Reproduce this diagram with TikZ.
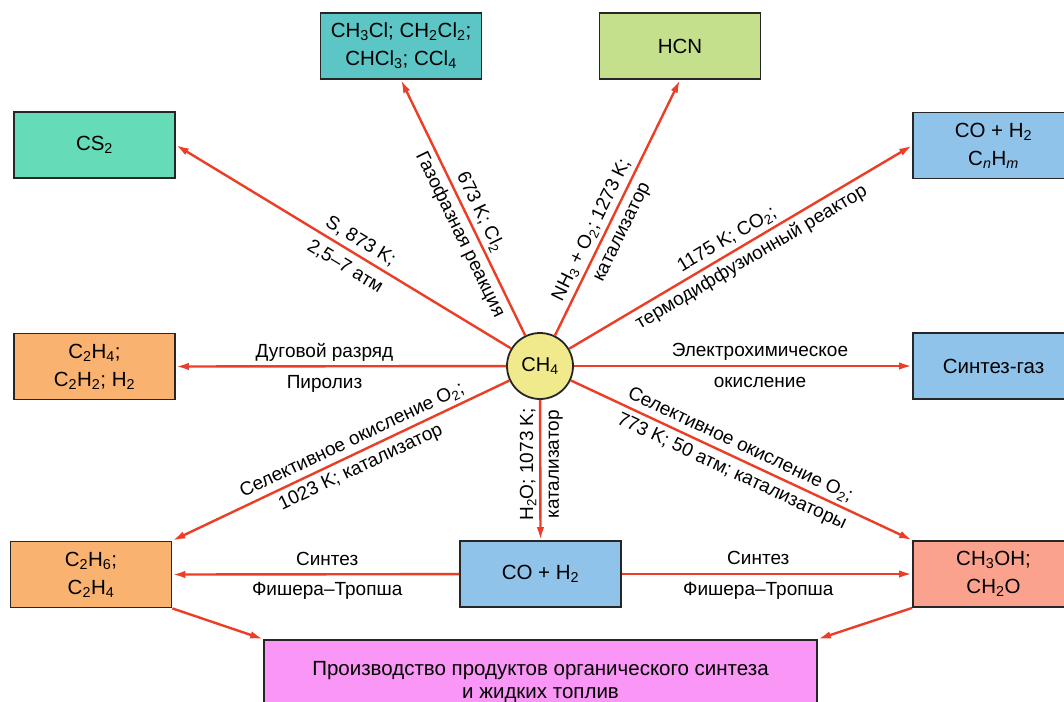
\documentclass[tikz,border=0pt]{standalone}
\usepackage{fontspec}
\setmainfont{Liberation Sans}
\usetikzlibrary{arrows.meta}

\definecolor{arrred}{RGB}{236,62,38}
\definecolor{mintbox}{RGB}{102,219,184}
\definecolor{tealbox}{RGB}{92,197,198}
\definecolor{limebox}{RGB}{196,224,140}
\definecolor{bluebox}{RGB}{143,195,234}
\definecolor{orangebox}{RGB}{250,178,112}
\definecolor{salmonbox}{RGB}{250,162,142}
\definecolor{pinkbox}{RGB}{250,150,245}
\definecolor{ch4fill}{RGB}{241,234,140}
\newcommand{\sbs}[1]{\textsubscript{#1}}

\begin{document}
\begin{tikzpicture}[
  x=1pt, y=-1pt,
  box/.style  = {draw=black!85, line width=1.8pt, align=center,
                 minimum width=161pt, minimum height=66pt, inner sep=2pt,
                 font=\fontsize{20.5}{28}\selectfont},
  hub/.style  = {circle, draw=black!85, line width=1.8pt, fill=ch4fill,
                 minimum size=66pt, inner sep=0pt, font=\fontsize{20}{22}\selectfont},
  lbl/.style  = {font=\fontsize{19}{21}\selectfont, inner sep=2pt,
                 text height=13.5pt, text depth=4pt},
  ar/.style   = {-{Latex[length=13pt,width=7.5pt]}, draw=arrred, line width=2.4pt},
]
\path[use as bounding box, clip] (0,0) rectangle (1064,701);

% ---- centre ----------------------------------------------------------------
\node[hub] (ch4) at (540,366) {CH\sbs{4}};

% ---- products ----------------------------------------------------------------
\node[box, fill=mintbox]   (cs2)   at (94.5,145)  {CS\sbs{2}};
\node[box, fill=tealbox]   (chl)   at (401,46)    {CH\sbs{3}Cl; CH\sbs{2}Cl\sbs{2};\\ CHCl\sbs{3}; CCl\sbs{4}};
\node[box, fill=limebox]   (hcn)   at (680,46)    {HCN};
\node[box, fill=bluebox]   (cnhm)  at (993.5,145.5) {CO + H\sbs{2}\\ C\sbs{\itshape n}H\sbs{\itshape m}};
\node[box, fill=orangebox] (c2h4)  at (94.5,366.5) {C\sbs{2}H\sbs{4};\\ C\sbs{2}H\sbs{2}; H\sbs{2}};
\node[box, fill=bluebox]   (syn)   at (993.5,366) {Синтез-газ};
\node[box, fill=orangebox] (c2h6)  at (91,574.5)  {C\sbs{2}H\sbs{6};\\ C\sbs{2}H\sbs{4}};
\node[box, fill=bluebox]   (co)    at (540.5,574) {CO + H\sbs{2}};
\node[box, fill=salmonbox] (ch3oh) at (993.5,574) {CH\sbs{3}OH;\\ CH\sbs{2}O};
\node[box, fill=pinkbox, minimum width=553pt, minimum height=84pt,
      font=\fontsize{20.5}{23.5}\selectfont] (prod) at (540.5,682)
  {Производство продуктов органического синтеза\\ и жидких топлив};

% ---- routes from CH4 -----------------------------------------------------------
\draw[ar] (ch4) -- (cs2.east)
  node[lbl, pos=.47, sloped, above=1pt] (l1a) {S, 873 K;}
  node[lbl, pos=.47, sloped, below=5pt] (l1b) {2,5–7 атм};
\draw[ar] (ch4) -- (chl.south)
  node[lbl, pos=.46, sloped, above=1pt] (l2a) {673 K; Cl\sbs{2}}
  node[lbl, pos=.42, sloped, below=3pt] (l2b) {Газофазная реакция};
\draw[ar] (ch4) -- (hcn.south)
  node[lbl, pos=.39, sloped, above=1pt] (l3a) {NH\sbs{3} + O\sbs{2}; 1273 K;}
  node[lbl, pos=.43, sloped, below=3pt] (l3b) {катализатор};
\draw[ar] (ch4) -- (cnhm.west)
  node[lbl, pos=.48, sloped, above=1pt] (l4a) {1175 K; CO\sbs{2};}
  node[lbl, pos=.51, sloped, below=3pt] (l4b) {термодиффузионный реактор};
\draw[ar] (ch4) -- (c2h4.east)
  node[lbl, pos=.55, above=2pt] (l5a) {Дуговой разряд}
  node[lbl, pos=.55, below=5pt] (l5b) {Пиролиз};
\draw[ar] (ch4) -- (syn.west)
  node[lbl, pos=.55, above=2pt] (l6a) {Электрохимическое}
  node[lbl, pos=.55, below=5pt] (l6b) {окисление};
\draw[ar] (ch4) -- (c2h6.north east)
  node[lbl, pos=.45, sloped, above=1pt] (l7a) {Селективное окисление O\sbs{2};}
  node[lbl, pos=.46, sloped, below=3pt] (l7b) {1023 K; катализатор};
\draw[ar] (ch4) -- (co.north)
  node[lbl, pos=.46, rotate=90, anchor=south] (l8a) {H\sbs{2}O; 1073 K;}
  node[lbl, pos=.46, rotate=90, anchor=north, yshift=-2pt] (l8b) {катализатор};
\draw[ar] (ch4) -- (ch3oh.north west)
  node[lbl, pos=.48, sloped, above=1pt] (l9a) {Селективное окисление O\sbs{2};}
  node[lbl, pos=.49, sloped, below=3pt] (l9b) {773 K; 50 атм; катализаторы};

% ---- Fischer-Tropsch ---------------------------------------------------------
\draw[ar] (co) -- (c2h6.east)
  node[lbl, pos=.46, above=2pt] (l10a) {Синтез}
  node[lbl, pos=.46, below=5pt] (l10b) {Фишера–Тропша};
\draw[ar] (co) -- (ch3oh.west)
  node[lbl, pos=.47, above=2pt] (l11a) {Синтез}
  node[lbl, pos=.47, below=5pt] (l11b) {Фишера–Тропша};

% ---- to production -----------------------------------------------------------
\draw[ar] (c2h6.south east) -- (prod.north west);
\draw[ar] (ch3oh.south west) -- (prod.north east);

\end{tikzpicture}
\end{document}
